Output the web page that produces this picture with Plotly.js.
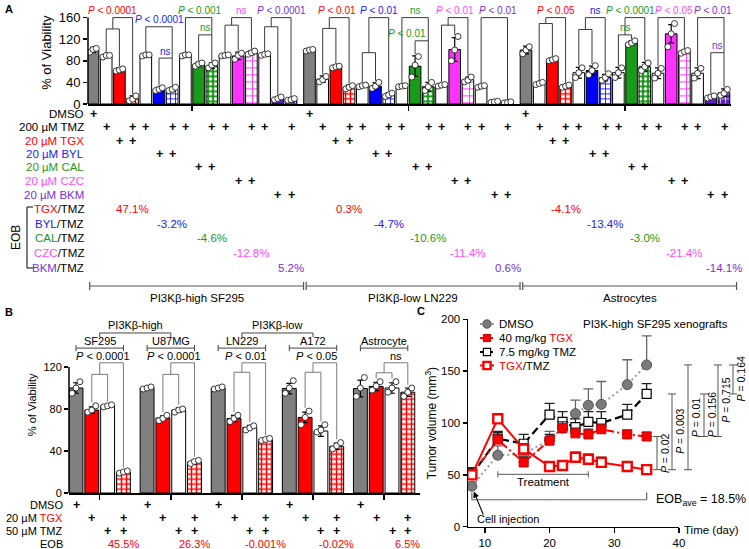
<!DOCTYPE html>
<html><head><meta charset="utf-8">
<script src="https://cdn.plot.ly/plotly-3.0.1.min.js"></script>
<style>body{margin:0;background:#fff}#chart{width:749px;height:549px}</style>
</head><body><div id="chart"></div>
<script>
// ================= DATA =================
// ---- Panel A ----
const groupsA = ['PI3Kβ-high SF295', 'PI3Kβ-low LN229', 'Astrocytes'];
const barTypesA = ['DMSO','TMZ','TGX','TGX/TMZ','TMZ','BYL','BYL/TMZ','TMZ','CAL','CAL/TMZ','TMZ','CZC','CZC/TMZ','TMZ','BKM','BKM/TMZ'];
const drugsA = ['TGX','BYL','CAL','CZC','BKM'];
const rowKeysA = ['DMSO','TMZ','TGX','BYL','CAL','CZC','BKM'];
const rowLabelsA = ['DMSO','200 µM TMZ','20 µM TGX','20 µM BYL','20 µM CAL','20 µM CZC','20 µM BKM'];

const meanA_SF295 = [100, 89, 63, 10, 90, 27, 27, 90, 73, 71, 90, 89, 95, 92, 10, 8];
const sdA_SF295   = [5, 3, 4, 5, 2, 4, 4, 2, 4, 5, 2, 7, 4, 2, 3, 2];
const ptsA_SF295  = [[96,101,103],[87,90,90],[61,63,65],[6,9,15],[89,91,91],[25,27,30],[25,27,31],[89,91,91],[70,74,76],[67,72,76],[89,90,91],[83,90,94],[92,95,98],[90,92,93],[8,10,13],[7,8,10]];

const meanA_LN229 = [100, 46, 69, 31, 34, 33, 17, 33, 70, 32, 35, 101, 45, 33, 4, 3];
const sdA_LN229   = [3, 6, 3, 4, 3, 6, 4, 3, 19, 8, 3, 22, 5, 3, 1, 1];
const ptsA_LN229  = [[98,100,101],[41,45,51],[67,69,70],[28,31,34],[32,34,35],[29,33,40],[14,17,20],[32,33,34],[50,72,88],[25,32,40],[33,35,36],[80,100,125],[41,44,50],[31,33,34],[3,4,5],[2,3,4]];

const meanA_Astro = [100, 38, 82, 33, 58, 62, 49, 58, 113, 69, 57, 130, 97, 57, 13, 21];
const sdA_Astro   = [7, 3, 3, 3, 10, 8, 6, 10, 4, 8, 10, 17, 3, 10, 3, 7];
const ptsA_Astro  = [[93,100,106],[36,38,40],[80,82,84],[31,33,35],[49,58,67],[54,62,71],[44,49,56],[49,58,67],[110,113,117],[62,69,76],[48,57,66],[106,130,149],[94,97,99],[48,57,66],[11,13,15],[16,20,27]];

const pTopA_SF295   = ['P < 0.0001','P < 0.0001','P < 0.001','ns','P < 0.0001'];
const pInnerA_SF295 = ['','ns','ns','',''];
const pTopA_LN229   = ['P < 0.01','P < 0.01','ns','P < 0.01','P < 0.01'];
const pInnerA_LN229 = ['','','P < 0.01','',''];
const pTopA_Astro   = ['P < 0.05','ns','P < 0.0001','P < 0.05','P < 0.01'];
const pInnerA_Astro = ['','','ns','','ns'];

const eobA_SF295 = ['47.1%','-3.2%','-4.6%','-12.8%','5.2%'];
const eobA_LN229 = ['0.3%','-4.7%','-10.6%','-11.4%','0.6%'];
const eobA_Astro = ['-4.1%','-13.4%','-3.0%','-21.4%','-14.1%'];

// ---- Panel B ----
const cellLinesB = ['SF295','U87MG','LN229','A172','Astrocyte'];
const barTypesB = ['DMSO','TGX','TMZ','TGX/TMZ'];
const meanB_SF295 = [100, 79, 83, 20];     const sdB_SF295 = [5, 3, 1, 1];
const meanB_U87MG = [100, 71.5, 79, 29.5]; const sdB_U87MG = [1, 2, 2, 2];
const meanB_LN229 = [100, 71, 62.5, 51];   const sdB_LN229 = [1, 3, 2, 1];
const meanB_A172  = [99.5, 72, 59, 44.5];  const sdB_A172 = [5, 5, 5, 3];
const meanB_Astro = [99.5, 101.5, 100, 96];const sdB_Astro = [8, 4, 5, 4];
const ptsB_SF295 = [[95,100,106],[77,79,83],[82,83,84],[19,20,21]];
const ptsB_U87MG = [[99,100,101],[69,71,74],[77,79,80],[28,30,31]];
const ptsB_LN229 = [[99,100,101],[68,71,74],[60,62,64],[50,51,52]];
const ptsB_A172  = [[95,100,107],[65,72,78],[58,60,65],[42,45,48]];
const ptsB_Astro = [[92,100,110],[98,102,106],[96,100,106],[92,96,100]];
const pB   = ['P < 0.0001','P < 0.0001','P < 0.01','P < 0.05','ns'];
const eobB = ['45.5%','26.3%','-0.001%','-0.02%','6.5%'];
const subtypeLabelsB = ['PI3Kβ-high','PI3Kβ-low'];
const subtypeMembersB = [[0,1],[2,3]];

// ---- Panel C ----
const daysC    = [8, 12, 16, 20, 22, 24, 26, 28, 32, 35];
const dmsoC    = [39, 69, 70, 84, 95, 109, 117, 118, 137, 156];
const dmsoErrC = [4, 9, 6, 8, 8, 13, 16, 22, 24, 28];
const tgxC     = [50, 84, 62, 83, 95, 90, 89, 94, 89, 87];
const tgxErrC  = [6, 7, 5, 6, 6, 5, 5, 5, 4, 4];
const tmzC     = [50, 85, 80, 108, 101, 96, 101, 100, 108, 128];
const tmzErrC  = [7, 7, 9, 11, 10, 8, 10, 11, 10, 10];
const comboC   = [50, 104, 75, 58, 59, 67, 65, 62, 58, 55];
const comboErrC= [5, 5, 5, 4, 4, 5, 5, 5, 4, 4];
const seriesNamesC = ['DMSO','40 mg/kg TGX','7.5 mg/kg TMZ','TGX/TMZ'];
const pPairsC  = [[1,3],[2,3],[0,3],[2,1],[0,1],[0,2]];
const pLabelsC = ['P = 0.02','P = 0.003','P = 0.01','P = 0.156','P = 0.715','P = 0.164'];
const eobC = '18.5%';
const treatmentDaysC = [12, 26];

// ================= STYLE / LAYOUT HELPERS =================
const FONT = 'Liberation Sans, Arial, Helvetica, sans-serif';
const W = 749, H = 549;
const px = v => v / W, py = v => 1 - v / H;
const f = (size, color) => ({family: FONT, size: size, color: color || '#000'});
const FILL = {DMSO:'#808080', TMZ:'#ffffff', TGX:'#ff0000', BYL:'#0000ff', CAL:'#1a9a1a', CZC:'#ff33ff', BKM:'#5b1fc4'};
const TXT  = {DMSO:'#000', TMZ:'#000', TGX:'#ff0000', BYL:'#2020ff', CAL:'#1a9a1a', CZC:'#ff4dff', BKM:'#7a2fd6'};
const COMBO = {
  TGX:{bg:'#ffffff', fg:'#ff0000', shape:'+', sol:0.5, size:5},
  BYL:{bg:'#ffffff', fg:'#0000ff', shape:'+', sol:0.3, size:5},
  CAL:{bg:'#1a9a1a', fg:'#ffffff', shape:'.', sol:0.35, size:5},
  CZC:{bg:'#ffffff', fg:'#ff33ff', shape:'+', sol:0.25, size:7},
  BKM:{bg:'#5b1fc4', fg:'#ffffff', shape:'+', sol:0.25, size:5}
};
function barStyle(type){
  if(type.indexOf('/') >= 0){ const c = COMBO[type.split('/')[0]]; return {c:c.bg, fg:c.fg, shape:c.shape, sol:c.sol, size:c.size}; }
  return {c:FILL[type], shape:''};
}
function pHtml(s){ return s.replace('<','&lt;').replace(/^P/,'<i>P</i>'); }

const shapes = [], ann = [], traces = [];
function seg(xref, yref, x0, y0, x1, y1, color, width, dash){
  shapes.push({type:'line', xref:xref, yref:yref, x0:x0, y0:y0, x1:x1, y1:y1, layer:'above',
    line:{color:color || '#333', width:width || 1, dash:dash || 'solid'}});
}
function txt(xref, yref, x, y, t, opts){
  ann.push(Object.assign({xref:xref, yref:yref, x:x, y:y, text:t, showarrow:false, font:f(11), borderpad:0,
    xanchor:'center', yanchor:'middle'}, opts || {}));
}

const AX = {
  A:{xd:[px(88), px(731)], xr:[-0.379, 48.33], yd:[py(104), py(1.4)], yr:[0, 190]},
  B:{xd:[px(69), px(420)], xr:[-0.443, 21.772], yd:[py(493), py(316.6)], yr:[0, 168]},
  C:{xd:[px(468), px(679)], xr:[7.4, 40], yd:[py(526.7), py(319.3)], yr:[0, 200]}
};
const xPaper = (a, v) => a.xd[0] + (v - a.xr[0]) / (a.xr[1] - a.xr[0]) * (a.xd[1] - a.xd[0]);

function addBars(means, sds, pts, types, pos, xa, ya, ptSize){
  const uniq = types.filter((t, i) => types.indexOf(t) === i);
  uniq.forEach(tp => {
    const st = barStyle(tp), x = [], y = [], e = [];
    means.forEach((m, g) => m.forEach((v, i) => { if(types[i] === tp){ x.push(pos(g, i)); y.push(v); e.push(sds[g][i]); } }));
    const marker = {color:st.c, line:{color:'#000', width:1}};
    if(st.shape) marker.pattern = {shape:st.shape, fgcolor:st.fg, bgcolor:st.c, solidity:st.sol, size:st.size, fillmode:'replace'};
    traces.push({type:'bar', x:x, y:y, width:0.88, xaxis:xa, yaxis:ya, hoverinfo:'skip', marker:marker,
      error_y:{type:'data', array:e, visible:true, color:'#000', thickness:1.2, width:3}});
  });
  const dx = [], dy = [];
  means.forEach((m, g) => m.forEach((v, i) => pts[g][i].forEach((p, k) => { dx.push(pos(g, i) + (k - 1) * 0.25); dy.push(p); })));
  traces.push({type:'scatter', mode:'markers', x:dx, y:dy, xaxis:xa, yaxis:ya, hoverinfo:'skip',
    marker:{symbol:'circle', size:ptSize, color:'#fff', line:{color:'#222', width:0.9}}});
}

// ================= PANEL A =================
const STRIDE_A = 16.4;
const posA = (g, i) => g * STRIDE_A + i;
const meansA = [meanA_SF295, meanA_LN229, meanA_Astro];
const sdsA = [sdA_SF295, sdA_LN229, sdA_Astro];
const ptsA = [ptsA_SF295, ptsA_LN229, ptsA_Astro];
const pTopA = [pTopA_SF295, pTopA_LN229, pTopA_Astro];
const pInnerA = [pInnerA_SF295, pInnerA_LN229, pInnerA_Astro];
const eobA = [eobA_SF295, eobA_LN229, eobA_Astro];
const topA = (g, i) => Math.max(meansA[g][i] + sdsA[g][i], Math.max.apply(null, ptsA[g][i])) + 3;
addBars(meansA, sdsA, ptsA, barTypesA, posA, 'x', 'y', 6);

// bracket geometry for A: [style, inner height, outer height, top-label shift, inner-label shift]
const bracketGeomA = [
  [['nested',139,160,-0.75,0],['split',85,143,0,0],['split',128,160,0.1,0],['nested',146,160,0,0],['nested',143,160,0,0]],
  [['nested',140,160,-0.2,0],['nested',95,160,0,0],['split',117,160,0,-1.1],['nested',146,160,-0.2,0],['simple',0,160,0.3,0]],
  [['nested',149,160,0,0],['nested',138,160,0,0],['nested',128,160,-0.3,0],['simple',0,160,0.2,0],['split',95,160,0.2,0]]
];
const LA = '#3a3a3a';
[0,1,2].forEach(g => drugsA.forEach((d, k) => {
  const [style, h1, h2, sT, sI] = bracketGeomA[g][k];
  const t = 1 + 3*k, s = 2 + 3*k, c = 3 + 3*k;
  const xt = posA(g,t), xs = posA(g,s), xc = posA(g,c);
  const col = TXT[d], top = pTopA[g][k], inner = pInnerA[g][k];
  const lab = (x, y, str) => txt('x','y', x, y, pHtml(str), {yanchor:'bottom', font:f(10, col)});
  if(style === 'nested'){
    const xm = (xt + xs) / 2;
    seg('x','y', xt, h1, xs, h1, LA); seg('x','y', xt, topA(g,t), xt, h1, LA); seg('x','y', xs, topA(g,s), xs, h1, LA);
    seg('x','y', xm, h1, xm, h2, LA); seg('x','y', xm, h2, xc, h2, LA); seg('x','y', xc, topA(g,c), xc, h2, LA);
    lab((xm + xc) / 2 + sT, h2 + 1, top);
    if(inner) lab(xm + sI, h1 + 1, inner);
  } else if(style === 'split'){
    seg('x','y', xt, h2, xc, h2, LA); seg('x','y', xt, topA(g,t), xt, h2, LA); seg('x','y', xc, h1, xc, h2, LA);
    seg('x','y', xs, h1, xc, h1, LA); seg('x','y', xs, topA(g,s), xs, h1, LA); seg('x','y', xc, topA(g,c), xc, h1, LA);
    lab((xt + xc) / 2 + sT, h2 + 1, top);
    if(inner) lab((xs + xc) / 2 + sI, h1 + 1, inner);
  } else {
    seg('x','y', xt, h2, xc, h2, LA); seg('x','y', xt, topA(g,t), xt, h2, LA); seg('x','y', xc, topA(g,c), xc, h2, LA);
    lab((xt + xc) / 2 + sT, h2 + 1, top);
  }
}));
shapes.push({type:'line', xref:'x domain', yref:'y', x0:0, x1:0, y0:0, y1:160, line:{color:'#000', width:1.5}});

// treatment table A
const rowYA = [114, 127, 140.5, 154, 167.5, 181, 194.5];
const eobRowYA = [209, 223.5, 238.5, 253, 268];
rowLabelsA.forEach((lb, r) => txt('paper','paper', px(85), py(rowYA[r]), lb, {xanchor:'right', font:f(11.5, TXT[rowKeysA[r]])}));
[0,1,2].forEach(g => barTypesA.forEach((tp, i) => tp.split('/').forEach(part => {
  const r = rowKeysA.indexOf(part);
  txt('x','paper', posA(g,i), py(rowYA[r]), '<b>+</b>', {font:f(12.5)});
})));
drugsA.forEach((d, k) => {
  txt('paper','paper', px(85), py(eobRowYA[k]), '<span style="color:' + TXT[d] + '">' + d + '</span>/TMZ', {xanchor:'right', font:f(11.5)});
  [0,1,2].forEach(g => txt('x','paper', posA(g, 3 + 3*k), py(eobRowYA[k]), eobA[g][k], {font:f(11.5, TXT[d])}));
});
seg('paper','paper', px(27), py(207), px(27), py(268), '#000', 1);
seg('paper','paper', px(27), py(207), px(33), py(207), '#000', 1);
seg('paper','paper', px(27), py(268), px(33), py(268), '#000', 1);
txt('paper','paper', px(16), py(238), 'EOB', {textangle:-90, font:f(12)});
groupsA.forEach((gname, g) => {
  const x0 = xPaper(AX.A, posA(g,0) - 0.25), x1 = xPaper(AX.A, posA(g,15) + 0.95);
  seg('paper','paper', x0, py(286), x1, py(286), '#555', 1.2);
  seg('paper','paper', x0, py(282), x0, py(290), '#555', 1.2);
  seg('paper','paper', x1, py(282), x1, py(290), '#555', 1.2);
  txt('paper','paper', (x0 + x1) / 2, py(297.5), gname, {font:f(11.5)});
});

// ================= PANEL B =================
const posB = (g, i) => g * 4.5 + i;
const meansB = [meanB_SF295, meanB_U87MG, meanB_LN229, meanB_A172, meanB_Astro];
const sdsB = [sdB_SF295, sdB_U87MG, sdB_LN229, sdB_A172, sdB_Astro];
const ptsB = [ptsB_SF295, ptsB_U87MG, ptsB_LN229, ptsB_A172, ptsB_Astro];
const topB = (g, i) => Math.max(meansB[g][i] + sdsB[g][i], Math.max.apply(null, ptsB[g][i])) + 3;
addBars(meansB, sdsB, ptsB, barTypesB, posB, 'x2', 'y2', 6);
shapes.push({type:'line', xref:'x2 domain', yref:'y2', x0:0, x1:0, y0:0, y1:120, line:{color:'#000', width:1.5}});

const innerHB = [113, 113, 115, 115, 114.5], outerHB = 124;
const LB = '#7a7a7a';
cellLinesB.forEach((cl, g) => {
  const x1 = posB(g,1), x2 = posB(g,2), xm = posB(g,1.5), xc = posB(g,3), h1 = innerHB[g];
  seg('x2','y2', x1, h1, x2, h1, LB); seg('x2','y2', x1, topB(g,1), x1, h1, LB); seg('x2','y2', x2, topB(g,2), x2, h1, LB);
  seg('x2','y2', xm, h1, xm, outerHB, LB); seg('x2','y2', xm, outerHB, xc, outerHB, LB); seg('x2','y2', xc, topB(g,3), xc, outerHB, LB);
  const lx = pB[g] === 'ns' ? (xm + xc) / 2 : posB(g, 1.7);
  txt('x2','y2', lx, outerHB, pHtml(pB[g]), {yanchor:'bottom', font:f(11)});
  seg('x2','y2', posB(g,0), 138, posB(g,3), 138, '#444', 1);
  seg('x2','y2', posB(g,0), 135, posB(g,0), 141, '#444', 1);
  seg('x2','y2', posB(g,3), 135, posB(g,3), 141, '#444', 1);
  txt('x2','y2', posB(g,1.5), 138.5, cl, {yanchor:'bottom', font:f(11)});
});
subtypeLabelsB.forEach((lb, k) => {
  const a = posB(subtypeMembersB[k][0], 1.5), b = posB(subtypeMembersB[k][1], 1.5);
  seg('x2','y2', a, 152.4, b, 152.4, '#444', 1);
  seg('x2','y2', a, 148.5, a, 152.4, '#444', 1);
  seg('x2','y2', b, 148.5, b, 152.4, '#444', 1);
  txt('x2','y2', (a + b) / 2, 153, lb, {yanchor:'bottom', font:f(11)});
});
const rowYB = [505, 518, 531, 544];
const rowKeysB = ['DMSO','TGX','TMZ'];
txt('paper','paper', px(64), py(rowYB[0]), 'DMSO', {xanchor:'right', font:f(11)});
txt('paper','paper', px(64), py(rowYB[1]), '20 µM <span style="color:#ff0000">TGX</span>', {xanchor:'right', font:f(11)});
txt('paper','paper', px(64), py(rowYB[2]), '50 µM TMZ', {xanchor:'right', font:f(11)});
txt('paper','paper', px(64), py(rowYB[3]), 'EOB', {xanchor:'right', font:f(11)});
cellLinesB.forEach((cl, g) => {
  barTypesB.forEach((tp, i) => tp.split('/').forEach(part => {
    txt('x2','paper', posB(g,i), py(rowYB[rowKeysB.indexOf(part)]), '<b>+</b>', {font:f(12.5)});
  }));
  txt('x2','paper', posB(g,3), py(rowYB[3]), eobB[g], {font:f(11, '#ff0000')});
});

// ================= PANEL C =================
const seriesC = [dmsoC, tgxC, tmzC, comboC];
const errC = [dmsoErrC, tgxErrC, tmzErrC, comboErrC];
const styleC = [
  {sym:'circle', size:10, fill:'#7a7a7a', mline:'#555', mw:1, lc:'#9a9a9a', dash:'2px,3px', lw:2, ec:'#666'},
  {sym:'square', size:9, fill:'#ff0000', mline:'#c00000', mw:1, lc:'#ff0000', dash:'8px,3px,2px,3px', lw:2, ec:'#222'},
  {sym:'square', size:9, fill:'#ffffff', mline:'#000', mw:1.2, lc:'#000', dash:'8px,4px', lw:2.2, ec:'#222'},
  {sym:'square', size:9, fill:'#ffffff', mline:'#ff0000', mw:2.4, lc:'#ff0000', dash:'solid', lw:2, ec:'#333'}
];
[0,2,1,3].forEach(k => {
  const s = styleC[k];
  traces.push({type:'scatter', mode:'lines+markers', x:daysC, y:seriesC[k], xaxis:'x3', yaxis:'y3', hoverinfo:'skip',
    line:{color:s.lc, width:s.lw, dash:s.dash},
    marker:{symbol:s.sym, size:s.size, color:s.fill, line:{color:s.mline, width:s.mw}},
    error_y:{type:'data', symmetric:false, array:errC[k], arrayminus:errC[k].map(() => 0), color:s.ec, thickness:1.3, width:5}});
});
const legY = [324, 338, 352, 365.5];
const legNames = ['DMSO', '40 mg/kg <span style="color:#ff0000">TGX</span>', '7.5 mg/kg TMZ', '<span style="color:#ff0000">TGX</span>/TMZ'];
seriesNamesC.forEach((nm, k) => {
  const s = styleC[k], y = legY[k];
  seg('paper','paper', px(480), py(y), px(494), py(y), s.lc, s.lw, s.dash === 'solid' ? 'solid' : (k === 0 ? '2px,2px' : '3px,2px'));
  const r = k === 0 ? 4.2 : 3.6;
  shapes.push({type: k === 0 ? 'circle' : 'rect', xref:'paper', yref:'paper', x0:px(487 - r), x1:px(487 + r), y0:py(y + r), y1:py(y - r),
    fillcolor:s.fill, line:{color:s.mline, width:s.mw}, layer:'above'});
  txt('paper','paper', px(497.5), py(y), legNames[k], {xanchor:'left', font:f(11.5)});
});
txt('paper','paper', px(655), py(324), 'PI3K-high SF295 xenografts', {font:f(11.5)});
seg('x3','y3', treatmentDaysC[0], 50.5, treatmentDaysC[1], 50.5, '#777', 1.2);
seg('x3','y3', treatmentDaysC[0], 47.5, treatmentDaysC[0], 53.5, '#777', 1.2);
seg('x3','y3', treatmentDaysC[1], 47.5, treatmentDaysC[1], 53.5, '#777', 1.2);
txt('x3','y3', (treatmentDaysC[0] + treatmentDaysC[1]) / 2, 43, 'Treatment', {font:f(11.5)});
const d0 = daysC[0], dN = daysC[daysC.length - 1];
seg('x3','y3', d0, 26, dN, 26, '#666', 1.2);
seg('x3','y3', d0, 26, d0, 33, '#666', 1.2);
seg('x3','y3', dN, 26, dN, 33, '#666', 1.2);
txt('paper','paper', px(655), py(500), 'EOB<sub>ave</sub> = ' + eobC, {xanchor:'left', font:f(12.5)});
txt('paper','paper', px(508), py(519), 'Cell injection', {font:f(11)});
ann.push({xref:'x3', yref:'y3', x:8.3, y:34, text:' ', showarrow:true, arrowhead:2, arrowsize:1.1, arrowwidth:1.1,
  arrowcolor:'#000', ax:11, ay:27, font:f(4), xanchor:'center', yanchor:'middle'});
const pLineX = [657, 672, 688, 704, 718, 733];
pPairsC.forEach((pr, k) => {
  const last = a => seriesC[a][seriesC[a].length - 1];
  const ya = last(pr[0]), yb = last(pr[1]);
  const xx = px(pLineX[k]);
  seg('paper','y3', xx, ya, xx, yb, '#555', 1);
  seg('paper','y3', px(pLineX[k] - 4), ya, px(pLineX[k] + 4), ya, '#555', 1);
  seg('paper','y3', px(pLineX[k] - 4), yb, px(pLineX[k] + 4), yb, '#555', 1);
  txt('paper','y3', px(pLineX[k] + 8), (ya + yb) / 2, pHtml(pLabelsC[k]), {textangle:-90, font:f(10.5)});
});
txt('paper','paper', px(683), py(530), 'Time (day)', {xanchor:'left', font:f(11.5)});

txt('paper','paper', px(4), py(9), '<b>A</b>', {xanchor:'left', font:f(11)});
txt('paper','paper', px(4), py(312), '<b>B</b>', {xanchor:'left', font:f(11)});
txt('paper','paper', px(416), py(311), '<b>C</b>', {xanchor:'left', font:f(11)});

// ================= LAYOUT =================
const baseAx = {showgrid:false, zeroline:false, ticks:'outside', tickcolor:'#000', tickwidth:1.5, fixedrange:true};
const layout = {
  width:W, height:H, margin:{l:0, r:0, t:0, b:0}, paper_bgcolor:'#fff', plot_bgcolor:'rgba(0,0,0,0)',
  showlegend:false, font:f(11), barmode:'overlay',
  xaxis:Object.assign({}, baseAx, {domain:AX.A.xd, range:AX.A.xr, anchor:'y', showline:true, linecolor:'#000', linewidth:1.5,
    tickvals:[0,1,2].map(g => posA(g, 7.5)), ticklen:5, showticklabels:false}),
  yaxis:Object.assign({}, baseAx, {domain:AX.A.yd, range:AX.A.yr, anchor:'x', showline:false, tickvals:[0,40,80,120,160], ticklen:4,
    tickfont:f(13), title:{text:'% of Viability', font:f(13), standoff:4}}),
  xaxis2:Object.assign({}, baseAx, {domain:AX.B.xd, range:AX.B.xr, anchor:'y2', showline:true, linecolor:'#000', linewidth:1.5,
    tickvals:[0,1,2,3,4].map(g => posB(g, 1.5)), ticklen:5, showticklabels:false}),
  yaxis2:Object.assign({}, baseAx, {domain:AX.B.yd, range:AX.B.yr, anchor:'x2', showline:false, tickvals:[0,40,80,120], ticklen:4,
    tickfont:f(11), title:{text:'% of Viability', font:f(11), standoff:4}}),
  xaxis3:Object.assign({}, baseAx, {domain:AX.C.xd, range:AX.C.xr, anchor:'y3', showline:true, linecolor:'#000', linewidth:1.5,
    tickvals:[10,20,30,40], ticklen:5, tickfont:f(11.5)}),
  yaxis3:Object.assign({}, baseAx, {domain:AX.C.yd, range:AX.C.yr, anchor:'x3', showline:true, linecolor:'#000', linewidth:1.5,
    tickvals:[0,50,100,150,200], ticklen:4, tickfont:f(11.5), title:{text:'Tumor volume (mm<sup>3</sup>)', font:f(12), standoff:2}}),
  shapes:shapes, annotations:ann
};
Plotly.newPlot('chart', traces, layout, {staticPlot:true, displayModeBar:false});
</script>
</body></html>
